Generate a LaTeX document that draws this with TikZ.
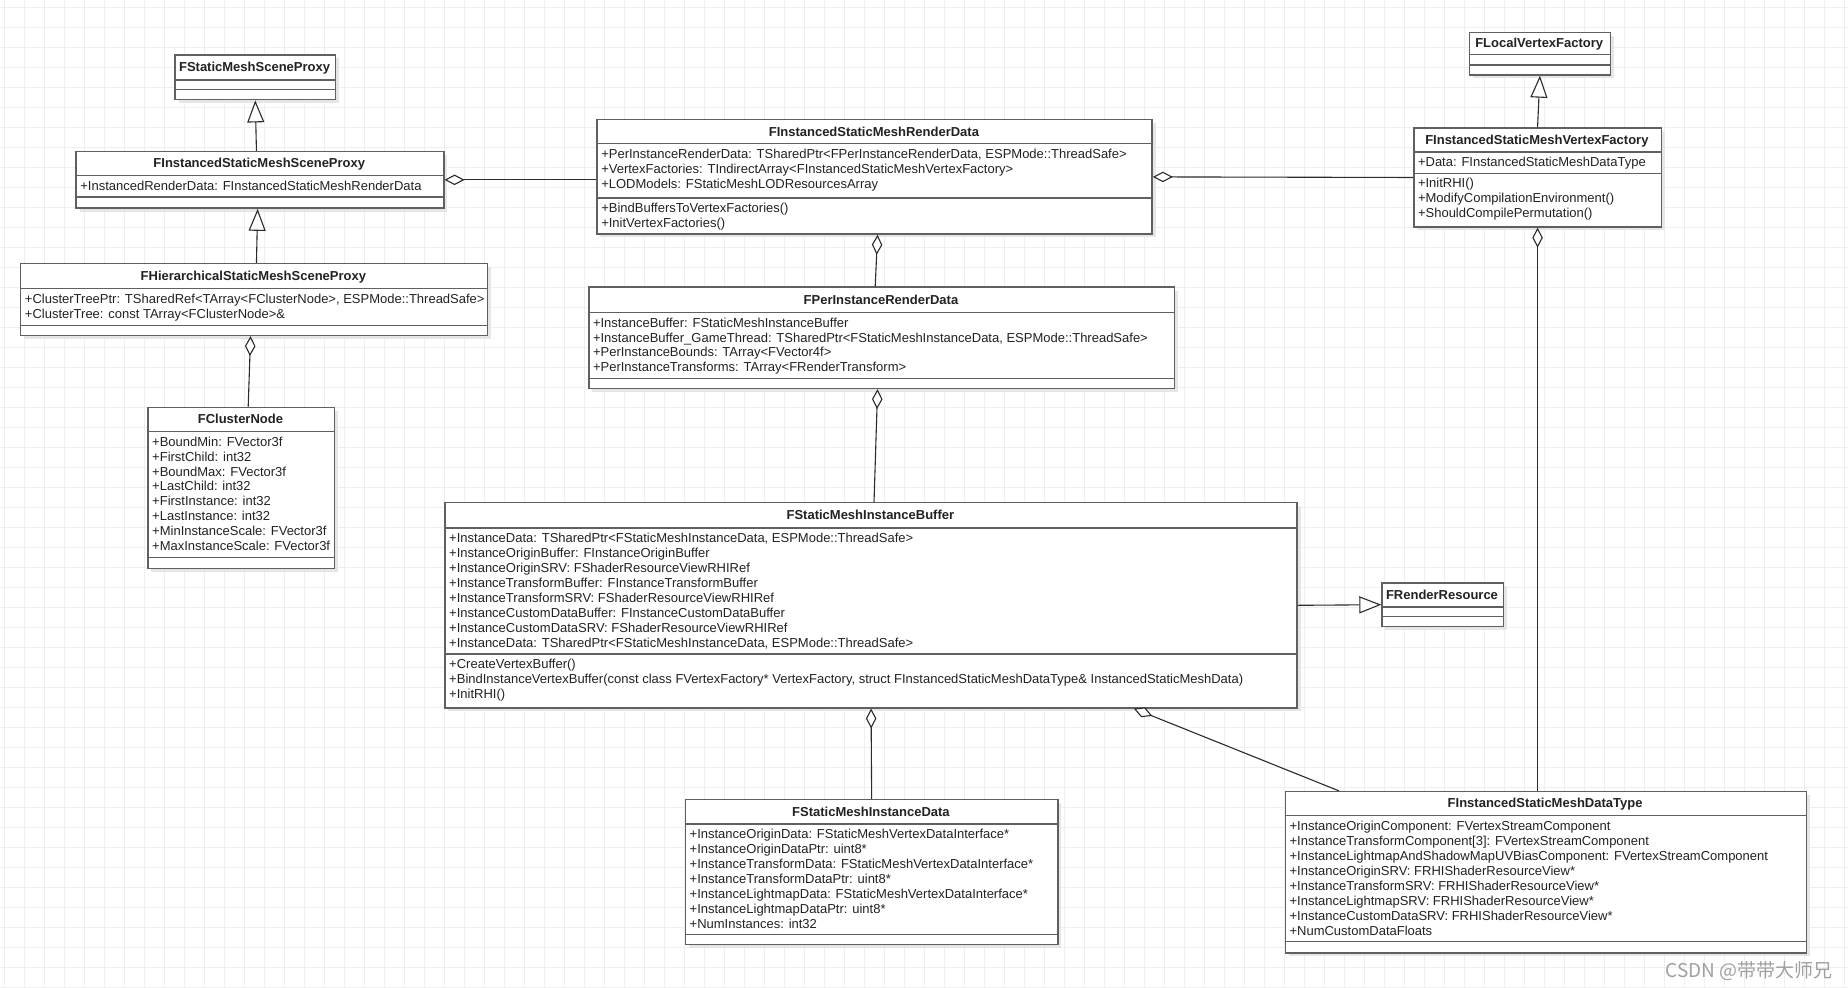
\documentclass[tikz,border=0pt]{standalone}
\usepackage{fontspec}
\setmainfont{Liberation Sans}
\newfontfamily\cjkfont{Noto Sans CJK SC}
\usetikzlibrary{arrows.meta,calc}
\definecolor{gridc}{HTML}{EFEFEF}
\definecolor{shadowc}{HTML}{E6E6E6}
\definecolor{borderc}{HTML}{606060}
\definecolor{linec}{HTML}{2B2B2B}
\definecolor{textc}{HTML}{222222}
\definecolor{markc}{HTML}{A0A0A0}
\tikzset{
 gridline/.style={draw=gridc, line width=1pt},
 classbox/.style={draw=borderc, fill=white, line width=1.4pt, inner sep=0pt, rectangle},
 sepline/.style={draw=borderc, line width=1.4pt},
 titletext/.style={font=\fontsize{13}{15}\bfseries, text=textc, inner sep=0pt},
 attrtext/.style={font=\fontsize{13}{15}\selectfont, text=textc, inner sep=0pt},
 conn/.style={draw=linec, line width=1.1pt},
 agg/.style={conn, {Diamond[fill=white, length=20pt, width=10.5pt, line width=1.1pt]}-},
 inh/.style={conn, -{Triangle[fill=white, length=22pt, width=17pt, line width=1.1pt]}},
 marktext/.style={font=\cjkfont\fontsize{19}{21}\selectfont, text=markc, inner sep=0pt},
}
% #1 name, #2 x, #3 top, #4 width, #5 height, #6 first separator, #7 second separator, #8 title
\newcommand{\umlclass}[8]{%
  \fill[shadowc] (#2+3.5,#3+3.5) rectangle ++(#4,#5);
  \node[classbox, anchor=north west, minimum width={#4*1.1786pt}, minimum height={#5*1.1786pt}] (#1) at (#2,#3) {};
  \draw[sepline] (#2,#6) -- ++(#4,0);
  \draw[sepline] (#2,#7) -- ++(#4,0);
  \node[titletext, anchor=base] (#1-title) at ({#2+#4/2},{(#3+#6)/2+4}) {#8};
}
% #1 prefix, #2 x, #3 separator y, #4 list of lines
\newcommand{\umllines}[4]{%
  \foreach \tx [count=\ii] in {#4} {
    \node[attrtext, anchor=base west] (#1-\ii) at (#2+4,{#3+12.5+(\ii-1)*12.7}) {\tx};
  }
}
\begin{document}
\begin{tikzpicture}[x=1.1786pt, y=-1.1786pt]
\useasboundingbox (0,0) rectangle (1568,838.3);
\fill[white] (0,0) rectangle (1568,838.3);
\begin{scope}[x=1pt, y=-1pt]
  \foreach \gx in {5,25,...,1845} \draw[gridline] (\gx,0) -- (\gx,988);
  \foreach \gy in {8,28,...,988} \draw[gridline] (0,\gy) -- (1848,\gy);
\end{scope}

% classes
\umlclass{A}{148}{46}{136}{38}{68}{76}{FStaticMeshSceneProxy}
\umlclass{B}{64}{128}{312}{48}{149}{167}{FInstancedStaticMeshSceneProxy}
\umllines{B-a}{64}{149}{{+InstancedRenderData: FInstancedStaticMeshRenderData}}
\umlclass{C}{17}{223}{396}{61}{245}{276}{FHierarchicalStaticMeshSceneProxy}
\umllines{C-a}{17}{245}{{+ClusterTreePtr: TSharedRef<TArray<FClusterNode>, ESPMode::ThreadSafe>},{+ClusterTree: const TArray<FClusterNode>\&}}
\umlclass{E}{125}{345}{158}{137}{366}{473}{FClusterNode}
\umllines{E-a}{125}{366}{{+BoundMin: FVector3f},{+FirstChild: int32},{+BoundMax: FVector3f},{+LastChild: int32},{+FirstInstance: int32},{+LastInstance: int32},{+MinInstanceScale: FVector3f},{+MaxInstanceScale: FVector3f}}
\umlclass{D}{506}{101}{471}{97}{122}{168}{FInstancedStaticMeshRenderData}
\umllines{D-a}{506}{122}{{+PerInstanceRenderData: TSharedPtr<FPerInstanceRenderData, ESPMode::ThreadSafe>},{+VertexFactories: TIndirectArray<FInstancedStaticMeshVertexFactory>},{+LODModels: FStaticMeshLODResourcesArray}}
\umllines{D-m}{506}{168}{{+BindBuffersToVertexFactories()},{+InitVertexFactories()}}
\umlclass{H}{1246}{27}{120}{36}{46}{55}{FLocalVertexFactory}
\umlclass{F}{1199}{108}{210}{84}{129}{147}{FInstancedStaticMeshVertexFactory}
\umllines{F-a}{1199}{129}{{+Data: FInstancedStaticMeshDataType}}
\umllines{F-m}{1199}{147}{{+InitRHI()},{+ModifyCompilationEnvironment()},{+ShouldCompilePermutation()}}
\umlclass{G}{499}{243}{497}{86}{265}{321}{FPerInstanceRenderData}
\umllines{G-a}{499}{265}{{+InstanceBuffer: FStaticMeshInstanceBuffer},{+InstanceBuffer\_GameThread: TSharedPtr<FStaticMeshInstanceData, ESPMode::ThreadSafe>},{+PerInstanceBounds: TArray<FVector4f>},{+PerInstanceTransforms: TArray<FRenderTransform>}}
\umlclass{I}{377}{426}{723}{174}{448}{555}{FStaticMeshInstanceBuffer}
\umllines{I-a}{377}{448}{{+InstanceData: TSharedPtr<FStaticMeshInstanceData, ESPMode::ThreadSafe>},{+InstanceOriginBuffer: FInstanceOriginBuffer},{+InstanceOriginSRV: FShaderResourceViewRHIRef},{+InstanceTransformBuffer: FInstanceTransformBuffer},{+InstanceTransformSRV: FShaderResourceViewRHIRef},{+InstanceCustomDataBuffer: FInstanceCustomDataBuffer},{+InstanceCustomDataSRV: FShaderResourceViewRHIRef},{+InstanceData: TSharedPtr<FStaticMeshInstanceData, ESPMode::ThreadSafe>}}
\umllines{I-m}{377}{555}{{+CreateVertexBuffer()},{+BindInstanceVertexBuffer(const class FVertexFactory* VertexFactory, struct FInstancedStaticMeshDataType\& InstancedStaticMeshData)},{+InitRHI()}}
\umlclass{L}{1172}{494}{103}{37}{515}{523}{FRenderResource}
\umlclass{J}{581}{678}{316}{123}{699}{793}{FStaticMeshInstanceData}
\umllines{J-a}{581}{699}{{+InstanceOriginData: FStaticMeshVertexDataInterface*},{+InstanceOriginDataPtr: uint8*},{+InstanceTransformData: FStaticMeshVertexDataInterface*},{+InstanceTransformDataPtr: uint8*},{+InstanceLightmapData: FStaticMeshVertexDataInterface*},{+InstanceLightmapDataPtr: uint8*},{+NumInstances: int32}}
\umlclass{K}{1090}{671}{442}{137}{692}{799}{FInstancedStaticMeshDataType}
\umllines{K-a}{1090}{692}{{+InstanceOriginComponent: FVertexStreamComponent},{+InstanceTransformComponent[3]: FVertexStreamComponent},{+InstanceLightmapAndShadowMapUVBiasComponent: FVertexStreamComponent},{+InstanceOriginSRV: FRHIShaderResourceView*},{+InstanceTransformSRV: FRHIShaderResourceView*},{+InstanceLightmapSRV: FRHIShaderResourceView*},{+InstanceCustomDataSRV: FRHIShaderResourceView*},{+NumCustomDataFloats}}

% inheritance
\draw[inh] ($(B.north)+(-3,0)$) -- (A.south);
\draw[inh] ($(C.north)+(2,0)$) -- ($(B.south)+(-2,0)$);
\draw[inh] (F.north) -- (H.south);
\draw[inh] (I.east) -- (L.west);

% aggregation (diamond at the whole)
\draw[agg] ($(C.south)+(-3,0)$) -- ($(E.north)+(6,0)$);
\draw[agg] (B.east) -- (B.east -| D.west);
\draw[agg] (D.east) -- (F.west);
\draw[agg] ($(D.south)+(2.5,0)$) -- ($(G.north)+(-5.5,0)$);
\draw[agg] ($(G.south)+(-3.5,0)$) -- ($(I.north)+(2.5,0)$);
\draw[agg] (I.south) -- (J.north);
\draw[agg] ($(I.south west)+(585,0)$) -- ($(K.north west)+(46,0)$);
\draw[agg] (F.south) -- (F.south |- K.north);

% watermark
\node[marktext, anchor=base east] (mark) at (1555,829) {CSDN @带带大师兄};
\end{tikzpicture}
\end{document}
